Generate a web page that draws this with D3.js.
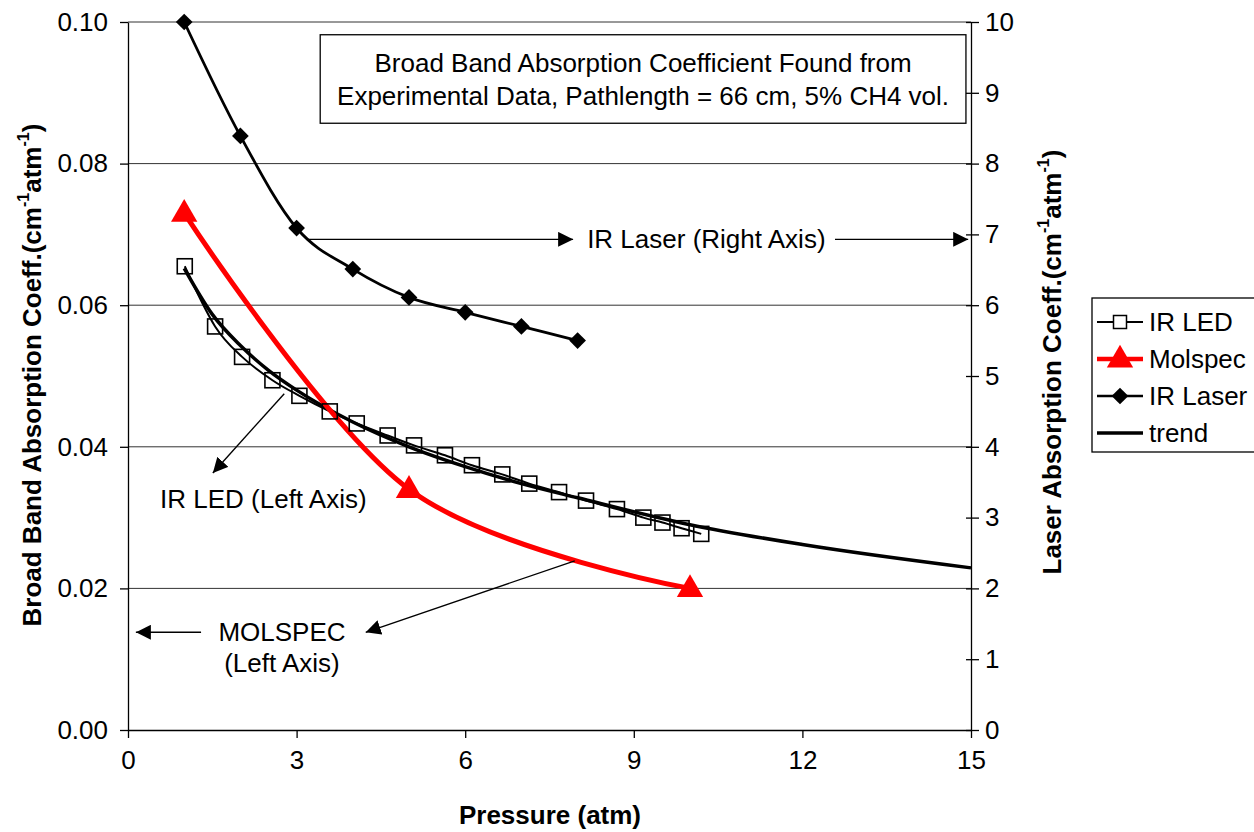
<!DOCTYPE html>
<html>
<head>
<meta charset="utf-8">
<script src="https://cdn.jsdelivr.net/npm/d3@7"></script>
<style>
  html, body { margin: 0; padding: 0; background: #fff; }
  svg { display: block; font-family: Arial, "Liberation Sans", sans-serif; }
</style>
</head>
<body>
<svg id="chart" width="1254" height="832"></svg>
<script>
// ---------- data ----------
const irLedX = [1.01, 1.55, 2.03, 2.57, 3.05, 3.59, 4.07, 4.62, 5.09, 5.64, 6.12, 6.66, 7.14, 7.67, 8.15, 8.70, 9.17, 9.51, 9.85, 10.20];
const irLedY = [0.0655, 0.0570, 0.0527, 0.0494, 0.0472, 0.0450, 0.0433, 0.0416, 0.0402, 0.0388, 0.0374, 0.0361, 0.0348, 0.0336, 0.0324, 0.0312, 0.0300, 0.0293, 0.0285, 0.0277];

const molspecX = [1, 5, 10];
const molspecY = [0.073, 0.034, 0.020];

const irLaserX = [1, 2, 3, 4, 5, 6, 7, 8];
const irLaserY = [10.0, 8.39, 7.09, 6.51, 6.11, 5.90, 5.70, 5.50];

const trendX = [1, 1.5, 2, 2.5, 3, 4, 5, 6, 7, 8, 10, 12, 15];
const trendY = [0.0652, 0.0587, 0.0543, 0.0508, 0.0480, 0.0435, 0.0400, 0.0372, 0.0348, 0.0328, 0.0290, 0.0262, 0.0229];

const xTicks = [0, 3, 6, 9, 12, 15];
const yLeftTicks = [0, 0.02, 0.04, 0.06, 0.08, 0.10];
const yRightTicks = [0, 1, 2, 3, 4, 5, 6, 7, 8, 9, 10];

const legendNames = ["IR LED", "Molspec", "IR Laser", "trend"];
const titleLines = ["Broad Band Absorption Coefficient Found from", "Experimental Data, Pathlength = 66 cm, 5% CH4 vol."];

(function () {
// ---------- layout ----------
const FS = 26;
const pL = 128, pR = 971, pT = 22, pB = 730;
const svg = d3.select("#chart");

const x = d3.scaleLinear().domain([0, 15]).range([pL, pR]);
const yL = d3.scaleLinear().domain([0, 0.1]).range([pB, pT]);
const yR = d3.scaleLinear().domain([0, 10]).range([pB, pT]);

// gridlines
svg.append("g").selectAll("line")
  .data(yLeftTicks.filter(d => d > 0))
  .join("line")
  .attr("x1", pL).attr("x2", pR)
  .attr("y1", d => yL(d)).attr("y2", d => yL(d))
  .attr("stroke", "#333").attr("stroke-width", 1);

// axes
function styleAxis(g) {
  g.selectAll(".domain").attr("stroke", "#000").attr("stroke-width", 1.3);
  g.selectAll(".tick line").attr("stroke", "#000").attr("stroke-width", 1.3);
  g.selectAll(".tick text").attr("font-size", FS).attr("fill", "#000")
    .attr("font-family", "Arial, 'Liberation Sans', sans-serif");
}
const xAxis = svg.append("g").attr("transform", `translate(0,${pB})`)
  .call(d3.axisBottom(x).tickValues(xTicks).tickFormat(d3.format("d")).tickSizeInner(8).tickSizeOuter(0).tickPadding(13));
styleAxis(xAxis);

const yAxisL = svg.append("g").attr("transform", `translate(${pL},0)`)
  .call(d3.axisLeft(yL).tickValues(yLeftTicks).tickFormat(d3.format(".2f")).tickSizeInner(8).tickSizeOuter(0).tickPadding(12));
styleAxis(yAxisL);

const yAxisR = svg.append("g").attr("transform", `translate(${pR},0)`)
  .call(d3.axisRight(yR).tickValues(yRightTicks).tickFormat(d3.format("d")).tickSizeInner(8).tickSizeOuter(0).tickPadding(6));
styleAxis(yAxisR);
yAxisR.selectAll(".tick line").attr("x1", -5);

// ---------- series ----------
const smooth = d3.curveCardinal.tension(0);

const ledPts = irLedX.map((d, i) => [d, irLedY[i]]);
const molPts = molspecX.map((d, i) => [d, molspecY[i]]);
const lasPts = irLaserX.map((d, i) => [d, irLaserY[i]]);
const trPts = trendX.map((d, i) => [d, trendY[i]]);

const lineL = d3.line().x(d => x(d[0])).y(d => yL(d[1])).curve(smooth);
const lineR = d3.line().x(d => x(d[0])).y(d => yR(d[1])).curve(smooth);
const lineT = d3.line().x(d => x(d[0])).y(d => yL(d[1])).curve(d3.curveMonotoneX);

svg.append("path").datum(ledPts).attr("d", lineL)
  .attr("fill", "none").attr("stroke", "#000").attr("stroke-width", 2);
svg.append("path").datum(trPts).attr("d", lineT)
  .attr("fill", "none").attr("stroke", "#000").attr("stroke-width", 3.5);
svg.append("path").datum(molPts).attr("d", lineL)
  .attr("fill", "none").attr("stroke", "#ff0000").attr("stroke-width", 5);
svg.append("path").datum(lasPts).attr("d", lineR)
  .attr("fill", "none").attr("stroke", "#000").attr("stroke-width", 2.8);

// markers
svg.append("g").selectAll("rect").data(ledPts).join("rect")
  .attr("x", d => x(d[0]) - 7.5).attr("y", d => yL(d[1]) - 7.5)
  .attr("width", 15).attr("height", 15)
  .attr("fill", "none").attr("stroke", "#000").attr("stroke-width", 1.6);

const tri = d3.symbol().type(d3.symbolTriangle).size(300);
svg.append("g").selectAll("path").data(molPts).join("path")
  .attr("d", tri)
  .attr("transform", d => `translate(${x(d[0])},${yL(d[1]) + 1})`)
  .attr("fill", "#ff0000");

const dia = d3.symbol().type(d3.symbolSquare).size(140);
svg.append("g").selectAll("path").data(lasPts).join("path")
  .attr("d", dia)
  .attr("transform", d => `translate(${x(d[0])},${yR(d[1])}) rotate(45)`)
  .attr("fill", "#000");

// ---------- annotations ----------
const defs = svg.append("defs");
defs.append("marker").attr("id", "ah")
  .attr("viewBox", "0 0 10 10").attr("refX", 10).attr("refY", 5)
  .attr("markerWidth", 15).attr("markerHeight", 15)
  .attr("markerUnits", "userSpaceOnUse")
  .attr("orient", "auto")
  .append("path").attr("d", "M0,0 L10,5 L0,10 Z").attr("fill", "#000");

function arrow(x1, y1, x2, y2) {
  svg.append("line").attr("x1", x1).attr("y1", y1).attr("x2", x2).attr("y2", y2)
    .attr("stroke", "#000").attr("stroke-width", 1.4).attr("marker-end", "url(#ah)");
}
function label(tx, ty, txt, anchor) {
  svg.append("text").attr("x", tx).attr("y", ty).attr("font-size", FS)
    .attr("text-anchor", anchor || "start").attr("dominant-baseline", "central")
    .attr("fill", "#000").text(txt);
}

arrow(x(3.18), yR(6.93), x(7.92), yR(6.93));
label(x(8.17), yR(6.93), "IR Laser (Right Axis)");
arrow(x(12.58), yR(6.93), x(14.95), yR(6.93));

arrow(x(2.78), yL(0.0475), x(1.51), yL(0.0363));
label(x(0.57), yL(0.0326), "IR LED (Left Axis)");

arrow(x(7.95), yL(0.0239), x(4.23), yL(0.0138));
arrow(x(1.30), yL(0.0138), x(0.14), yL(0.0138));
label(x(2.74), yL(0.0138), "MOLSPEC", "middle");
label(x(2.74), yL(0.00946), "(Left Axis)", "middle");

const bx1 = x(3.42), bx2 = x(14.91), by1 = yL(0.0982), by2 = yL(0.0857);
svg.append("rect").attr("x", bx1).attr("y", by1).attr("width", bx2 - bx1).attr("height", by2 - by1)
  .attr("fill", "#fff").attr("stroke", "#000").attr("stroke-width", 1.3);
titleLines.forEach((t, i) => {
  label((bx1 + bx2) / 2, by1 + 28 + i * 33, t, "middle");
});

// ---------- axis titles ----------
svg.append("text").attr("x", 550).attr("y", 815)
  .attr("text-anchor", "middle").attr("dominant-baseline", "central")
  .attr("font-size", FS).attr("font-weight", "bold").text("Pressure (atm)");

function unitTitle(g, main) {
  const t = g.append("text").attr("text-anchor", "middle").attr("font-size", FS)
    .attr("font-weight", "bold").attr("dominant-baseline", "central");
  t.append("tspan").text(main + "(cm");
  t.append("tspan").attr("baseline-shift", "super").attr("font-size", FS * 0.62).text("-1");
  t.append("tspan").text("atm");
  t.append("tspan").attr("baseline-shift", "super").attr("font-size", FS * 0.62).text("-1");
  t.append("tspan").text(")");
  return t;
}
unitTitle(svg.append("g").attr("transform", `translate(32,375) rotate(-90)`), "Broad Band Absorption Coeff.");
unitTitle(svg.append("g").attr("transform", `translate(1052,362) rotate(-90)`), "Laser Absorption Coeff.");

// ---------- legend ----------
const lg = svg.append("g");
lg.append("rect").attr("x", 1092).attr("y", 298).attr("width", 200).attr("height", 154)
  .attr("fill", "#fff").attr("stroke", "#000").attr("stroke-width", 1.3);
const legY = [322, 359, 396, 433];
const legColor = ["#000", "#ff0000", "#000", "#000"];
const legWidth = [2, 4.5, 2.5, 3.5];
legendNames.forEach((n, i) => {
  const yy = legY[i];
  lg.append("line").attr("x1", 1097).attr("x2", 1143).attr("y1", yy).attr("y2", yy)
    .attr("stroke", legColor[i]).attr("stroke-width", legWidth[i]);
  if (i === 0) {
    lg.append("rect").attr("x", 1120 - 6.5).attr("y", yy - 6.5).attr("width", 13).attr("height", 13)
      .attr("fill", "#fff").attr("stroke", "#000").attr("stroke-width", 1.5);
  } else if (i === 1) {
    lg.append("path").attr("d", tri).attr("transform", `translate(1120,${yy + 1})`).attr("fill", "#ff0000");
  } else if (i === 2) {
    lg.append("path").attr("d", dia).attr("transform", `translate(1120,${yy}) rotate(45)`).attr("fill", "#000");
  }
  lg.append("text").attr("x", 1149).attr("y", yy).attr("dominant-baseline", "central")
    .attr("font-size", FS).text(n);
});
})();
</script>
</body>
</html>
